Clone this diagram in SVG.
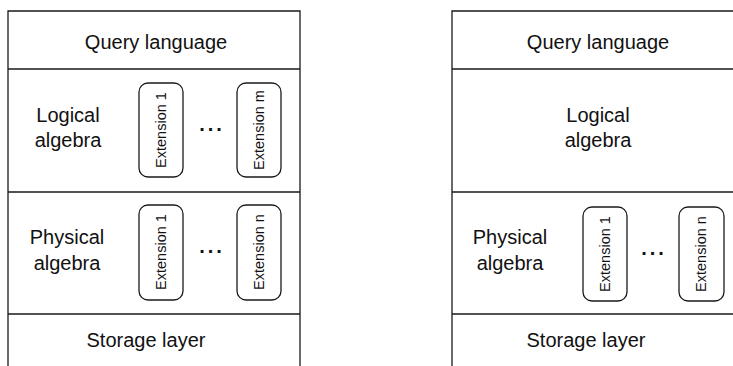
<svg xmlns="http://www.w3.org/2000/svg" width="733" height="366" viewBox="0 0 733 366">
<style>
.ln{fill:none;stroke:#1a1a1a;stroke-width:1.3}
.ext{fill:#fff;stroke:#1a1a1a;stroke-width:1.3}
.t{font-family:"Liberation Sans",Arial,sans-serif;font-size:20px;fill:#111;text-anchor:middle}
.e{font-family:"Liberation Sans",Arial,sans-serif;font-size:14.5px;fill:#111;text-anchor:middle}
.d{font-family:"Liberation Sans",Arial,sans-serif;font-size:20px;font-weight:bold;fill:#111;text-anchor:middle;letter-spacing:3px}
</style>
<rect width="733" height="366" fill="#fff"/>
<g id="left-stack">
  <g id="left-frame">
    <path class="ln" d="M8,366 V11 H300 V366"/>
    <path class="ln" d="M8,69 H300 M8,192 H300 M8,314 H300"/>
  </g>
  <g id="left-query"><text class="t" x="156" y="49">Query language</text></g>
  <g id="left-logical">
    <text class="t" x="68" y="122">Logical</text>
    <text class="t" x="68" y="147">algebra</text>
    <g id="left-log-ext1"><rect class="ext" x="139" y="83" width="44" height="94" rx="9"/><text class="e" transform="translate(166,130) rotate(-90)">Extension 1</text></g>
    <text class="d" x="212" y="131">...</text>
    <g id="left-log-extm"><rect class="ext" x="237" y="83" width="44" height="94" rx="9"/><text class="e" transform="translate(264,130) rotate(-90)">Extension m</text></g>
  </g>
  <g id="left-physical">
    <text class="t" x="67" y="244">Physical</text>
    <text class="t" x="67" y="270">algebra</text>
    <g id="left-phy-ext1"><rect class="ext" x="139" y="205" width="44" height="95" rx="9"/><text class="e" transform="translate(166,252) rotate(-90)">Extension 1</text></g>
    <text class="d" x="212" y="253">...</text>
    <g id="left-phy-extn"><rect class="ext" x="237" y="205" width="44" height="95" rx="9"/><text class="e" transform="translate(264,252) rotate(-90)">Extension n</text></g>
  </g>
  <g id="left-storage"><text class="t" x="146" y="347">Storage layer</text></g>
</g>
<g id="right-stack">
  <g id="right-frame">
    <path class="ln" d="M452,366 V11 H733"/>
    <path class="ln" d="M452,69 H733 M452,192 H733 M452,314 H733"/>
  </g>
  <g id="right-query"><text class="t" x="598" y="49">Query language</text></g>
  <g id="right-logical">
    <text class="t" x="598" y="122">Logical</text>
    <text class="t" x="598" y="147">algebra</text>
  </g>
  <g id="right-physical">
    <text class="t" x="510" y="244">Physical</text>
    <text class="t" x="510" y="270">algebra</text>
    <g id="right-phy-ext1"><rect class="ext" x="583" y="207" width="44" height="94" rx="9"/><text class="e" transform="translate(610,254) rotate(-90)">Extension 1</text></g>
    <text class="d" x="654" y="255">...</text>
    <g id="right-phy-extn"><rect class="ext" x="679" y="207" width="45" height="94" rx="9"/><text class="e" transform="translate(706,254) rotate(-90)">Extension n</text></g>
  </g>
  <g id="right-storage"><text class="t" x="586" y="347">Storage layer</text></g>
</g>
</svg>
